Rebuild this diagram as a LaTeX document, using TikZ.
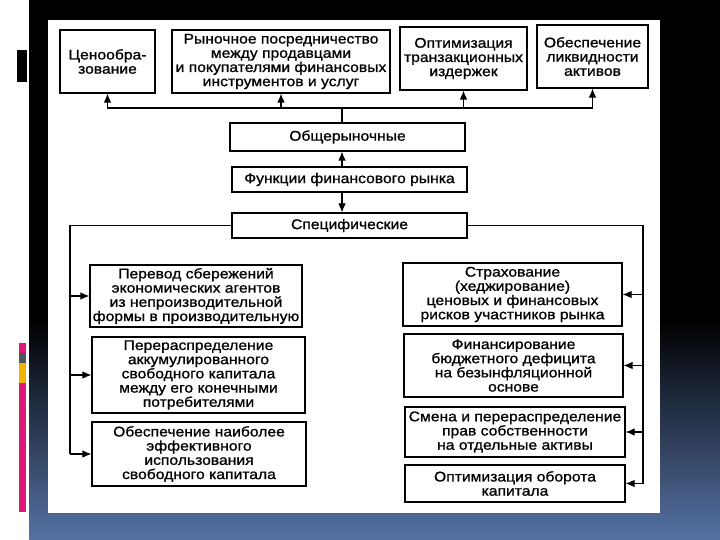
\documentclass[tikz,border=0pt]{standalone}
\usepackage{fontspec}
\setmainfont{Liberation Sans}[FakeStretch=1.12, FakeBold=1]
\usepackage{tikz}
\usetikzlibrary{arrows.meta}
\definecolor{slateblue}{RGB}{86,114,164}
\definecolor{barpink}{RGB}{222,24,120}
\definecolor{baryellow}{RGB}{240,180,0}
\definecolor{bargray}{RGB}{80,85,90}

\begin{document}
\begin{tikzpicture}[x=1pt, y=-1pt,
% common options for the boxes:
box/.style = {draw, line width=1.1pt, fill=white, align=center, inner sep=0,
            font=\fontsize{14}{14.2}\selectfont},
% common options for the connectors:
link/.style = {line width=1.1pt},
arr/.style = {link, -{Latex[length=9pt,width=7.5pt]}}]
\useasboundingbox (0,0) rectangle (720,540);

% slide background
\fill[white] (0,0) rectangle (29,540);
\fill[black] (29,0) rectangle (720,320);
\shade[top color=black, bottom color=slateblue] (29,320) rectangle (720,540);
\fill[black] (17,50) rectangle (27,82);
\fill[barpink] (19,343) rectangle (26,353);
\fill[bargray] (19,353) rectangle (26,363);
\fill[baryellow] (19,363) rectangle (26,383);
\fill[barpink] (19,383) rectangle (26,512);
\fill[white] (48,20) rectangle (660,513);

% top row
\node[box, minimum width=95, minimum height=63] (cena) at (107.5,61.5) {Ценообра-\\зование};
\node[box, minimum width=218, minimum height=63] (posr) at (281,61.5) {Рыночное посредничество\\между продавцами\\и покупателями финансовых\\инструментов и услуг};
\node[box, minimum width=127, minimum height=63] (opt) at (463.5,58.5) {Оптимизация\\транзакционных\\издержек};
\node[box, minimum width=111, minimum height=63] (likv) at (592.5,56.5) {Обеспечение\\ликвидности\\активов};

% middle column
\node[box, minimum width=235, minimum height=28] (obsh) at (347.5,137) {Общерыночные};
\node[box, minimum width=235, minimum height=25] (funk) at (349.5,179.5) {Функции финансового рынка};
\node[box, minimum width=235, minimum height=25] (spec) at (349.5,225.5) {Специфические};

% left column
\node[box, minimum width=212, minimum height=62] (pl1) at (196,296) {Перевод сбережений\\экономических агентов\\из непроизводительной\\формы в производительную};
\node[box, minimum width=213, minimum height=76] (pl2) at (198.5,375) {Перераспределение\\аккумулированного\\свободного капитала\\между его конечными\\потребителями};
\node[box, minimum width=214, minimum height=64] (pl3) at (199,454) {Обеспечение наиболее\\эффективного\\использования\\свободного капитала};

% right column
\node[box, minimum width=219, minimum height=63] (pr1) at (512.5,294.5) {Страхование\\(хеджирование)\\ценовых и финансовых\\рисков участников рынка};
\node[box, minimum width=219, minimum height=63] (pr2) at (513.5,365.5) {Финансирование\\бюджетного дефицита\\на безынфляционной\\основе};
\node[box, minimum width=220, minimum height=50] (pr3) at (515,432) {Смена и перераспределение\\прав собственности\\на отдельные активы};
\node[box, minimum width=220, minimum height=37] (pr4) at (515,483.5) {Оптимизация оборота\\капитала};

% connectors
\coordinate (tbus) at (342,108);
\coordinate (lbus) at (70,225.5);
\coordinate (rbus) at (643,225.5);
\draw[link] (tbus |- obsh.north) -- (tbus);
\foreach \n in {cena,posr,opt,likv}
  \draw[arr] (tbus) -| (\n.south);
\draw[arr] (funk.north -| tbus) -- (obsh.south -| tbus);
\draw[arr] (funk.south -| tbus) -- (spec.north -| tbus);
\draw[link] (spec.west) -- (lbus) -- (lbus |- pl3.west);
\foreach \n in {pl1,pl2,pl3}
  \draw[arr] (lbus |- \n.west) -- (\n.west);
\draw[link] (spec.east) -- (rbus) -- (rbus |- pr4.east);
\foreach \n in {pr1,pr2,pr3,pr4}
  \draw[arr] (rbus |- \n.east) -- (\n.east);
\end{tikzpicture}
\end{document}
